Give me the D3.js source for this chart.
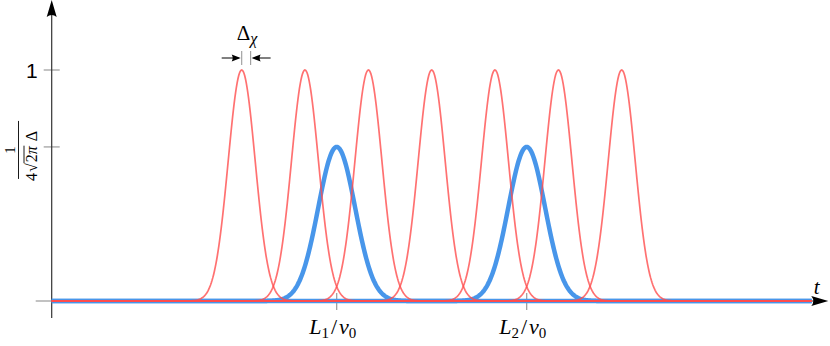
<!DOCTYPE html>
<html>
<head>
<meta charset="utf-8">
<script src="https://cdn.jsdelivr.net/npm/d3@7"></script>
<style>
  body { margin: 0; background: #fff; }
  svg { display: block; }
</style>
</head>
<body>
<div id="chart"></div>
<script>
// peak centres (t), widths (sigma) and heights
var redCenters = [1.0, 1.333, 1.667, 2.0, 2.333, 2.667, 3.0];
var redSigma = 0.071;
var redHeight = 1.0;

var blueCenters = [1.5, 2.5];
var blueSigma = 0.097;
var blueHeight = 0.667;

var xTickValues = [1.5, 2.5];
var xTickLabels = [["L", "1", "v", "0"], ["L", "2", "v", "0"]];
var yTickValues = [1.0, 0.667];

// the Delta_chi annotation: from the peak centre to one width out
var deltaChi = [1.0, 1.047];

var svgWidth = 830;
var svgHeight = 346;

var margin = { top: 70, left: 51.7, bottom: 45, right: 18.3 };

var svg = d3.select("#chart")
    .append("svg")
    .attr("width", svgWidth)
    .attr("height", svgHeight);

var x = d3.scaleLinear()
    .domain([0, 4])
    .range([margin.left, svgWidth - margin.right]);

var y = d3.scaleLinear()
    .domain([0, 1])
    .range([svgHeight - margin.bottom, margin.top]);

var y0 = y(0);
var axisColor = "#333";
var tickColor = "#9a9a9a";
var serif = "'Liberation Serif', 'DejaVu Serif', serif";

// sample a gaussian bump over the whole time range
function bump(center, sigma, height) {
    var pts = [];
    for (var t = 0; t <= 4.0001; t += 0.004) {
        var d = (t - center) / sigma;
        pts.push([t, height * Math.exp(-0.5 * d * d)]);
    }
    return pts;
}

var line = d3.line()
    .x(d => x(d[0]))
    .y(d => y(d[1]));

// y ticks
svg.append("g")
    .selectAll("line")
    .data(yTickValues)
    .enter()
    .append("line")
    .attr("x1", x(0) - 8)
    .attr("x2", x(0) + 8)
    .attr("y1", d => y(d))
    .attr("y2", d => y(d))
    .attr("stroke", tickColor)
    .attr("stroke-width", 1.2);

svg.append("line")
    .attr("x1", x(0) - 16).attr("x2", x(0))
    .attr("y1", y0).attr("y2", y0)
    .attr("stroke", tickColor)
    .attr("stroke-width", 1.2);

// x ticks
svg.append("g")
    .selectAll("line")
    .data(xTickValues)
    .enter()
    .append("line")
    .attr("x1", d => x(d))
    .attr("x2", d => x(d))
    .attr("y1", y0 - 8)
    .attr("y2", y0 + 9)
    .attr("stroke", tickColor)
    .attr("stroke-width", 1.2);

// axes
svg.append("line")
    .attr("x1", x(0)).attr("x2", x(4) + 2)
    .attr("y1", y0).attr("y2", y0)
    .attr("stroke", axisColor)
    .attr("stroke-width", 1.2);

svg.append("line")
    .attr("x1", x(0)).attr("x2", x(0))
    .attr("y1", y0 + 17).attr("y2", 12)
    .attr("stroke", axisColor)
    .attr("stroke-width", 1.2);

// arrow heads
var ax = x(0);
svg.append("path")
    .attr("d", `M${ax},0 L${ax + 5},17 Q${ax},13 ${ax - 5},17 Z`)
    .attr("fill", "#000");

var ex = x(4) + 16.6;
svg.append("path")
    .attr("d", `M${ex},${y0} L${ex - 17},${y0 - 5} Q${ex - 13},${y0} ${ex - 17},${y0 + 5} Z`)
    .attr("fill", "#000");

// blue bumps (drawn below the red ones)
svg.append("g")
    .selectAll("path")
    .data(blueCenters)
    .enter()
    .append("path")
    .attr("d", d => line(bump(d, blueSigma, blueHeight)))
    .attr("fill", "none")
    .attr("stroke", "#4896ea")
    .attr("stroke-width", 4.5)
    .attr("stroke-linejoin", "round");

svg.append("g")
    .selectAll("path")
    .data(redCenters)
    .enter()
    .append("path")
    .attr("d", d => line(bump(d, redSigma, redHeight)))
    .attr("fill", "none")
    .attr("stroke", "#ff4d4d")
    .attr("stroke-opacity", 0.8)
    .attr("stroke-width", 1.7);

// y tick labels
svg.append("text")
    .attr("x", x(0) - 14)
    .attr("y", y(1))
    .attr("dy", "0.36em")
    .attr("text-anchor", "end")
    .attr("font-family", "'Liberation Sans', Arial, sans-serif")
    .attr("font-size", 21)
    .text("1");

var frac = svg.append("g")
    .attr("transform", `translate(0, ${y(yTickValues[1]) + 3}) rotate(-90)`)
    .attr("font-family", serif);

frac.append("text")
    .attr("x", 0).attr("y", 15)
    .attr("text-anchor", "middle")
    .attr("font-size", 15)
    .text("1");

frac.append("line")
    .attr("x1", -29).attr("x2", 29)
    .attr("y1", 18.5).attr("y2", 18.5)
    .attr("stroke", "#000")
    .attr("stroke-width", 0.9);

var den = frac.append("text")
    .attr("x", -6).attr("y", 36.5)
    .attr("text-anchor", "middle")
    .attr("font-size", 16);
den.append("tspan").text("4");
den.append("tspan").attr("dx", 1).text("\u221A");
den.append("tspan").attr("dx", 1).text("2");
den.append("tspan").attr("font-style", "italic").text("\u03C0");
den.append("tspan").attr("dx", 5).text("\u0394");

var c2 = den.node().getExtentOfChar(2);
var c3 = den.node().getExtentOfChar(3);
frac.append("line")
    .attr("x1", c2.x - 1)
    .attr("x2", c3.x + c3.width + 0.5)
    .attr("y1", c2.y + 1.5)
    .attr("y2", c2.y + 1.5)
    .attr("stroke", "#000")
    .attr("stroke-width", 0.9);

// x tick labels
var xLab = svg.append("g")
    .selectAll("text")
    .data(xTickValues)
    .enter()
    .append("text")
    .attr("x", d => x(d) - 4)
    .attr("y", y0 + 33)
    .attr("text-anchor", "middle")
    .attr("font-family", serif)
    .attr("font-size", 22);

xLab.each(function (d, i) {
    var t = d3.select(this);
    var lab = xTickLabels[i];
    t.append("tspan").attr("font-style", "italic").text(lab[0]);
    t.append("tspan").attr("font-size", 15).attr("dy", 4).text(lab[1]);
    t.append("tspan").attr("dy", -4).attr("dx", 2).text("/");
    t.append("tspan").attr("font-style", "italic").attr("dx", 2).text(lab[2]);
    t.append("tspan").attr("font-size", 15).attr("dy", 4).text(lab[3]);
});

svg.append("text")
    .attr("x", x(4) + 5)
    .attr("y", y0 - 7)
    .attr("text-anchor", "middle")
    .attr("font-family", serif)
    .attr("font-style", "italic")
    .attr("font-size", 21)
    .text("t");

// Delta_chi annotation
var ay = 58;
var annot = svg.append("g");
annot.selectAll("line")
    .data(deltaChi)
    .enter()
    .append("line")
    .attr("x1", d => x(d))
    .attr("x2", d => x(d))
    .attr("y1", ay - 7)
    .attr("y2", ay + 7)
    .attr("stroke", tickColor)
    .attr("stroke-width", 1.1);

var xa = x(deltaChi[0]);
var xb = x(deltaChi[1]);
annot.append("line")
    .attr("x1", xa - 20).attr("x2", xa - 3)
    .attr("y1", ay).attr("y2", ay)
    .attr("stroke", "#000").attr("stroke-width", 1);
annot.append("line")
    .attr("x1", xb + 3).attr("x2", xb + 20)
    .attr("y1", ay).attr("y2", ay)
    .attr("stroke", "#000").attr("stroke-width", 1);
annot.append("path")
    .attr("d", `M${xa - 1},${ay} L${xa - 10},${ay - 3.5} Q${xa - 8},${ay} ${xa - 10},${ay + 3.5} Z`)
    .attr("fill", "#000");
annot.append("path")
    .attr("d", `M${xb + 1},${ay} L${xb + 10},${ay - 3.5} Q${xb + 8},${ay} ${xb + 10},${ay + 3.5} Z`)
    .attr("fill", "#000");

var dl = annot.append("text")
    .attr("x", xa - 5)
    .attr("y", 40)
    .attr("font-family", serif)
    .attr("font-size", 21);
dl.append("tspan").text("\u0394");
dl.append("tspan")
    .attr("font-style", "italic")
    .attr("font-size", 16)
    .attr("dy", 4)
    .text("\u03C7");
</script>
</body>
</html>
